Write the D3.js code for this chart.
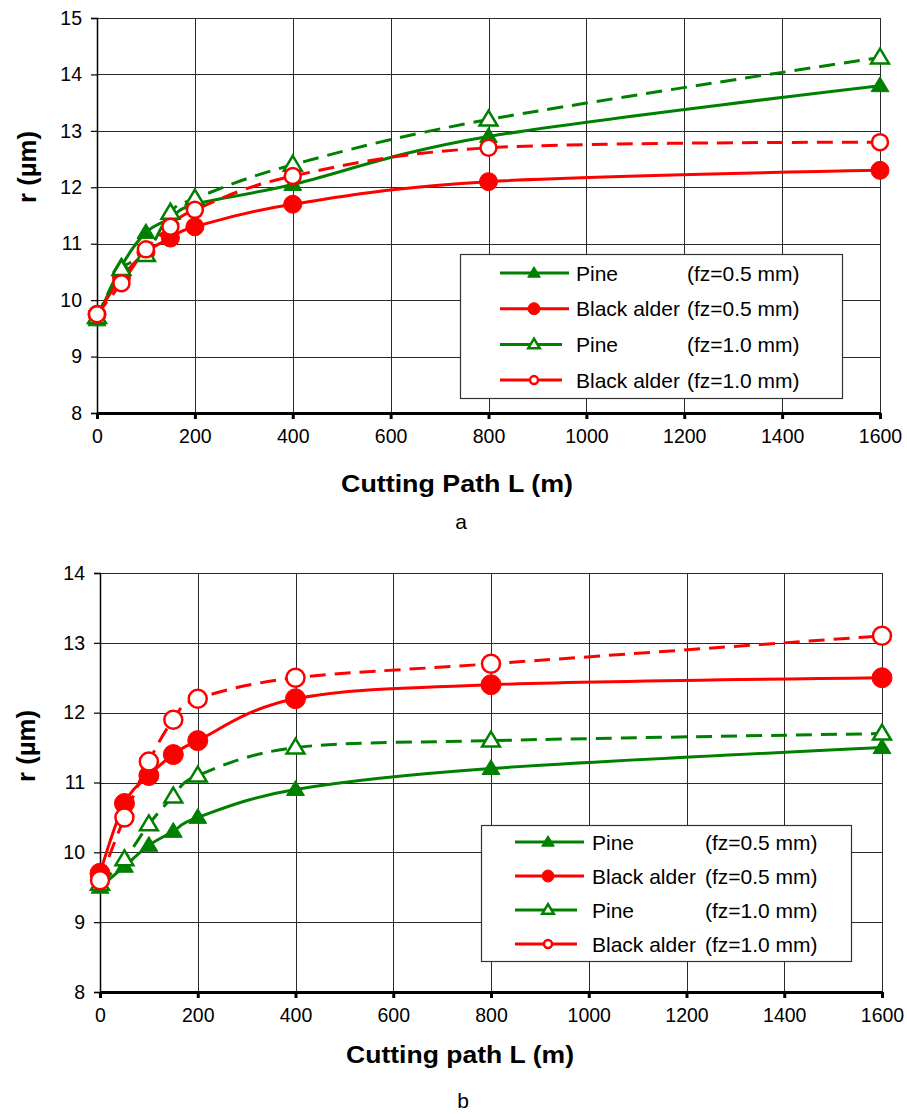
<!DOCTYPE html>
<html>
<head>
<meta charset="utf-8">
<script src="https://cdn.jsdelivr.net/npm/d3@7"></script>
<style>
  body { margin: 0; background: #fff; }
  svg { display: block; font-family: Arial, "Liberation Sans", Helvetica, sans-serif; }
</style>
</head>
<body>
<svg id="fig" width="907" height="1114"></svg>
<script>
// cutting path values (m)
var pathL = [0, 50, 100, 150, 200, 400, 800, 1600];
var xTicks = [0, 200, 400, 600, 800, 1000, 1200, 1400, 1600];

// chart a
var aPine05 = [9.65, 10.6, 11.2, 11.45, 11.7, 12.05, 12.9, 13.8];
var aAlder05 = [9.75, 10.4, 10.85, 11.1, 11.3, 11.7, 12.1, 12.3];
var aPine10 = [9.7, 10.55, 10.8, 11.55, 11.8, 12.4, 13.2, 14.3];
var aAlder10 = [9.75, 10.3, 10.9, 11.3, 11.6, 12.2, 12.7, 12.8];
var aYTicks = [8, 9, 10, 11, 12, 13, 14, 15];

// chart b
var bPine05 = [9.5, 9.8, 10.1, 10.3, 10.5, 10.9, 11.2, 11.5];
var bAlder05 = [9.7, 10.7, 11.1, 11.4, 11.6, 12.2, 12.4, 12.5];
var bPine10 = [9.55, 9.9, 10.4, 10.8, 11.1, 11.5, 11.6, 11.7];
var bAlder10 = [9.6, 10.5, 11.3, 11.9, 12.2, 12.5, 12.7, 13.1];
var bYTicks = [8, 9, 10, 11, 12, 13, 14];

var legendNames = ["Pine", "Black alder", "Pine", "Black alder"];
var legendFz = ["(fz=0.5 mm)", "(fz=0.5 mm)", "(fz=1.0 mm)", "(fz=1.0 mm)"];

var green = "#008000";
var red = "#ff0000";

var svg = d3.select("#fig");

function drawChart(opt) {
    let x = d3.scaleLinear().domain([0, 1600]).range([opt.left, opt.right]);
    let y = d3.scaleLinear().domain(d3.extent(opt.yTicks)).range([opt.bottom, opt.top]);

    let g = svg.append("g");

    // grid
    g.selectAll("line.hgrid")
    .data(opt.yTicks.slice(1))
    .enter().append("line")
    .attr("x1", opt.left).attr("x2", opt.right)
    .attr("y1", (d) => Math.round(y(d)) + 0.5).attr("y2", (d) => Math.round(y(d)) + 0.5)
    .attr("stroke", "#2a2a2a").attr("stroke-width", 1);

    g.selectAll("line.vgrid")
    .data(xTicks.slice(1))
    .enter().append("line")
    .attr("y1", opt.top).attr("y2", opt.bottom)
    .attr("x1", (d) => Math.round(x(d)) + 0.5).attr("x2", (d) => Math.round(x(d)) + 0.5)
    .attr("stroke", "#2a2a2a").attr("stroke-width", 1);

    // y axis
    let yAxis = d3.axisLeft(y).tickValues(opt.yTicks).tickFormat(d3.format("d")).tickSize(6).tickPadding(9);
    let yG = g.append("g").attr("transform", "translate(" + opt.left + ",0)").call(yAxis);
    yG.select(".domain").attr("stroke", "#000").attr("stroke-width", 1.5);
    yG.selectAll(".tick line").attr("stroke", "#000").attr("stroke-width", 1.2);
    yG.selectAll("text").style("font-size", "19.5px").attr("fill", "#000")
    .style("font-family", "Arial, 'Liberation Sans', sans-serif");

    // x axis
    let xAxis = d3.axisBottom(x).tickValues(xTicks).tickFormat(d3.format("d")).tickSize(6).tickPadding(10).tickSizeOuter(0);
    let xG = g.append("g").attr("transform", "translate(0," + opt.bottom + ")").call(xAxis);
    xG.select(".domain").attr("stroke", "#000").attr("stroke-width", 3);
    xG.selectAll(".tick line").attr("stroke", "#000").attr("stroke-width", 3);
    xG.selectAll("text").style("font-size", "19.5px").attr("fill", "#000")
    .style("font-family", "Arial, 'Liberation Sans', sans-serif");

    // lines
    let line = d3.line()
    .x((d, i) => x(pathL[i]))
    .y((d) => y(d))
    .curve(d3.curveCatmullRom.alpha(0));

    let series = [
        { v: opt.pine05, c: green, dash: null, m: "tri", fill: true },
        { v: opt.alder05, c: red, dash: null, m: "circ", fill: true },
        { v: opt.pine10, c: green, dash: "16,9", m: "tri", fill: false },
        { v: opt.alder10, c: red, dash: "16,9", m: "circ", fill: false }
    ];
    for (let s of series) {
        g.append("path")
        .attr("d", line(s.v))
        .attr("fill", "none")
        .attr("stroke", s.c)
        .attr("stroke-width", 3)
        .attr("stroke-dasharray", s.dash);
    }
    for (let s of series) {
        s.v.forEach((d, i) => {
            drawMarker(g, x(pathL[i]), y(d), s, opt.msize);
        });
    }

    // legend
    let lg = svg.append("g");
    lg.append("rect")
    .attr("x", opt.lgX + 0.5).attr("y", opt.lgY + 0.5)
    .attr("width", opt.lgW).attr("height", opt.lgH)
    .attr("fill", "#fff").attr("stroke", "#333").attr("stroke-width", 1.2);
    series.forEach((s, i) => {
        let cy = opt.lgY + opt.lgRow0 + i * opt.lgStep;
        let lx0 = opt.lgX + opt.lgLine0;
        let lx1 = s.fill ? lx0 + 69 : lx0 + 62;
        let mx = opt.lgX + opt.lgMark;
        lg.append("line")
        .attr("x1", lx0).attr("x2", lx1).attr("y1", cy).attr("y2", cy)
        .attr("stroke", s.c).attr("stroke-width", 3);
        drawMarker(lg, mx, cy, s, s.fill ? { tri: 6, circ: 6 } : { tri: 5.5, circ: 5 });
        lg.append("text")
        .attr("x", opt.lgX + opt.lgText).attr("y", cy + 7.5)
        .text(legendNames[i])
        .style("font-size", "21px").attr("fill", "#000");
        lg.append("text")
        .attr("x", opt.lgX + opt.lgText2).attr("y", cy + 7.5)
        .text(legendFz[i])
        .style("font-size", "21px").attr("fill", "#000");
    });

    // axis titles
    svg.append("text")
    .text(opt.xTitle)
    .attr("x", opt.xTitleX).attr("y", opt.xTitleY)
    .attr("text-anchor", "middle")
    .attr("textLength", opt.xTitleW).attr("lengthAdjust", "spacingAndGlyphs")
    .style("font-size", "24px").style("font-weight", "bold");

    svg.append("text")
    .text("r (\u00b5m)")
    .attr("transform", "translate(" + opt.yTitleX + "," + opt.yTitleY + ") rotate(-90)")
    .attr("text-anchor", "middle")
    .attr("textLength", 72).attr("lengthAdjust", "spacingAndGlyphs")
    .style("font-size", "25px").style("font-weight", "bold");

    svg.append("text")
    .text(opt.panel)
    .attr("x", opt.panelX).attr("y", opt.panelY)
    .attr("text-anchor", "middle")
    .style("font-size", "21px");
}

function drawMarker(g, cx, cy, s, size) {
    if (s.m === "tri") {
        let r = size.tri;
        let h = r * 1.75;
        let pts = [[cx, cy - h * 0.6], [cx + r * 1.05, cy + h * 0.4], [cx - r * 1.05, cy + h * 0.4]];
        g.append("path")
        .attr("d", "M" + pts.map((p) => p.join(",")).join("L") + "Z")
        .attr("fill", s.fill ? s.c : "#fff")
        .attr("stroke", s.c)
        .attr("stroke-width", s.fill ? 1 : 2.5)
        .attr("stroke-linejoin", "miter");
    } else {
        g.append("circle")
        .attr("cx", cx).attr("cy", cy)
        .attr("r", s.fill ? size.circ : size.circ - 1)
        .attr("fill", s.fill ? s.c : "#fff")
        .attr("stroke", s.c)
        .attr("stroke-width", s.fill ? 1 : 2.5);
    }
}

drawChart({
    left: 97, right: 880, top: 18, bottom: 413,
    yTicks: aYTicks,
    pine05: aPine05, alder05: aAlder05, pine10: aPine10, alder10: aAlder10,
    msize: { tri: 8.5, circ: 9 },
    lgX: 460, lgY: 254, lgW: 382, lgH: 144,
    lgRow0: 19, lgStep: 35.7, lgLine0: 40, lgMark: 74, lgText: 116, lgText2: 227,
    xTitle: "Cutting Path L (m)", xTitleX: 457, xTitleY: 492, xTitleW: 232,
    yTitleX: 36, yTitleY: 167,
    panel: "a", panelX: 461, panelY: 529
});

drawChart({
    left: 100, right: 882, top: 573, bottom: 992,
    yTicks: bYTicks,
    pine05: bPine05, alder05: bAlder05, pine10: bPine10, alder10: bAlder10,
    msize: { tri: 8.5, circ: 10 },
    lgX: 481, lgY: 825, lgW: 370, lgH: 136,
    lgRow0: 17, lgStep: 34, lgLine0: 34, lgMark: 67, lgText: 111, lgText2: 224,
    xTitle: "Cutting path L (m)", xTitleX: 460, xTitleY: 1063, xTitleW: 228,
    yTitleX: 35, yTitleY: 746,
    panel: "b", panelX: 463, panelY: 1108
});
</script>
</body>
</html>
